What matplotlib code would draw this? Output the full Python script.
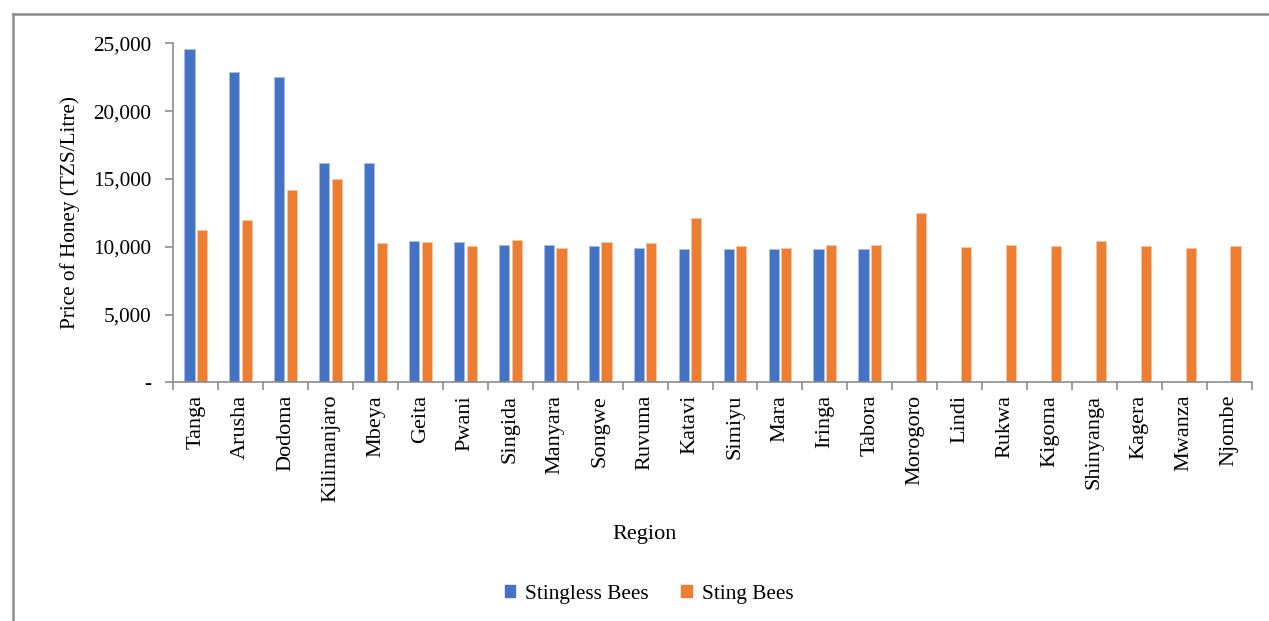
import matplotlib
matplotlib.use("Agg")
import matplotlib.pyplot as plt
import numpy as np
from matplotlib.lines import Line2D

regions = ["Tanga", "Arusha", "Dodoma", "Kilimanjaro", "Mbeya", "Geita", "Pwani",
           "Singida", "Manyara", "Songwe", "Ruvuma", "Katavi", "Simiyu", "Mara",
           "Iringa", "Tabora", "Morogoro", "Lindi", "Rukwa", "Kigoma", "Shinyanga",
           "Kagera", "Mwanza", "Njombe"]
stingless = [24580, 22880, 22540, 16150, 16150, 10440, 10350, 10130, 10130, 10050,
             9880, 9850, 9850, 9850, 9830, 9810, 0, 0, 0, 0, 0, 0, 0, 0]
sting = [11230, 11950, 14180, 15020, 10270, 10320, 10050, 10490, 9930, 10350,
         10270, 12140, 10070, 9880, 10130, 10130, 12510, 9950, 10100, 10030,
         10420, 10050, 9930, 10050]
yticks = [0, 5000, 10000, 15000, 20000, 25000]
ytick_labels = ["-", "5,000", "10,000", "15,000", "20,000", "25,000"]

plt.rcParams['font.family'] = ['Liberation Serif', 'DejaVu Serif']

W, H = 1269, 621
fig = plt.figure(figsize=(W / 100, H / 100), dpi=100)
ax = fig.add_axes([173.3 / W, 1 - 382.3 / H, (1251.7 - 173.3) / W, (382.3 - 43.3) / H])

x = np.arange(len(regions))
bw = 0.225
blue = "#4472C4"
orange = "#ED7D31"
ax.bar(x - 0.14, stingless, width=bw, color=blue, edgecolor="#a9bde6", linewidth=0.6,
       label="Stingless Bees")
ax.bar(x + 0.14, sting, width=bw, color=orange, edgecolor="#f7c6a3", linewidth=0.6,
       label="Sting Bees")

ax.set_xlim(-0.5, len(regions) - 0.5)
ax.set_ylim(0, 25000)
ax.set_yticks(yticks)
ax.set_yticklabels(ytick_labels, fontsize=15.3)
ax.set_xticks(x)
ax.set_xticklabels(regions, rotation=90, fontsize=16)
ax.set_xticks(np.arange(len(regions) + 1) - 0.5, minor=True)
ax.tick_params(axis='x', which='major', length=0, pad=9)
ax.tick_params(axis='x', which='minor', length=6, color="#8c8c8c", width=1.2)
ax.tick_params(axis='y', length=6, color="#8c8c8c", width=1.2, pad=10)

for s in ["top", "right"]:
    ax.spines[s].set_visible(False)
for s in ["left", "bottom"]:
    ax.spines[s].set_color("#8c8c8c")
    ax.spines[s].set_linewidth(1.2)

ax.set_ylabel("Price of Honey (TZS/Litre)", fontsize=15.3, labelpad=9)
fig.text(645 / W, 1 - 534 / H, "Region", ha="center", va="center", fontsize=16)

handles = [plt.Rectangle((0, 0), 1, 1, color=blue), plt.Rectangle((0, 0), 1, 1, color=orange)]
fig.legend(handles, ["Stingless Bees", "Sting Bees"], loc="center",
           bbox_to_anchor=(649 / W, 1 - 594 / H), ncol=2, frameon=False, fontsize=15.3,
           handlelength=0.5, handleheight=0.5, handletextpad=0.45, columnspacing=1.55)

# outer frame
fig.add_artist(Line2D([12.5 / W, 12.5 / W], [0, 1 - 14 / H], color="#8c8c8c", lw=1.8,
                      transform=fig.transFigure))
fig.add_artist(Line2D([12.5 / W, 1], [1 - 14 / H, 1 - 14 / H], color="#8c8c8c", lw=1.8,
                      transform=fig.transFigure))

fig.savefig("out.png", dpi=100)
